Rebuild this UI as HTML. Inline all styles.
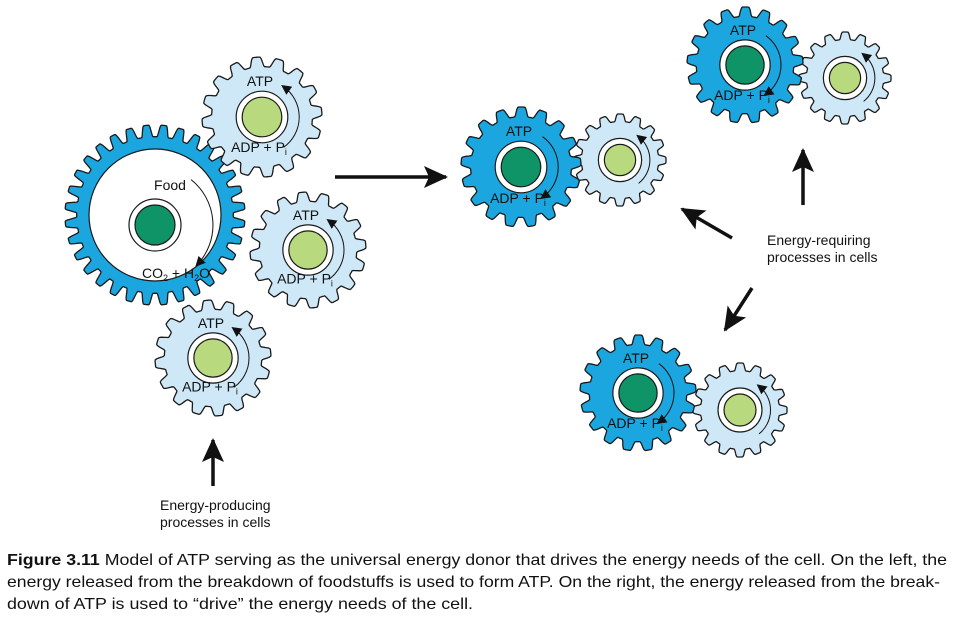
<!DOCTYPE html>
<html><head><meta charset="utf-8"><style>
html,body{margin:0;padding:0;background:#fff;}
svg{display:block;}
text{font-family:"Liberation Sans",sans-serif;fill:#111;}
</style></head><body>
<svg id="s" width="955" height="618" viewBox="0 0 955 618" xmlns="http://www.w3.org/2000/svg">
<defs>
<marker id="ah" markerWidth="10" markerHeight="10" refX="7" refY="5" orient="auto" markerUnits="userSpaceOnUse">
<path d="M0,0 L10,5 L0,10 Z" fill="#111"/></marker>
<marker id="big" markerWidth="24" markerHeight="22" refX="22" refY="11" orient="auto" markerUnits="userSpaceOnUse">
<path d="M0,0 L24,11 L0,22 L5,11 Z" fill="#111"/></marker>
</defs>
<g id="gears"></g>
<line x1="335" y1="177" x2="446" y2="177" stroke="#111" stroke-width="3.5" marker-end="url(#big)"/>
<line x1="213" y1="486" x2="213" y2="440" stroke="#111" stroke-width="3.5" marker-end="url(#big)"/>
<line x1="803" y1="205" x2="803" y2="150" stroke="#111" stroke-width="3.5" marker-end="url(#big)"/>
<line x1="732" y1="238" x2="682" y2="209" stroke="#111" stroke-width="3.5" marker-end="url(#big)"/>
<line x1="752" y1="288" x2="725" y2="330" stroke="#111" stroke-width="3.5" marker-end="url(#big)"/>
<g font-size="14">
<text x="160" y="510">Energy-producing</text>
<text x="160" y="527">processes in cells</text>
<text x="767" y="245">Energy-requiring</text>
<text x="767" y="262">processes in cells</text>
</g>
<g font-size="16">
<text x="7" y="565" textLength="940" lengthAdjust="spacingAndGlyphs"><tspan font-weight="bold">Figure 3.11</tspan>   Model of ATP serving as the universal energy donor that drives the energy needs of the cell. On the left, the</text>
<text x="7" y="587" textLength="933" lengthAdjust="spacingAndGlyphs">energy released from the breakdown of foodstuffs is used to form ATP. On the right, the energy released from the break-</text>
<text x="7" y="609" textLength="466" lengthAdjust="spacingAndGlyphs">down of ATP is used to “drive” the energy needs of the cell.</text>
</g>
</svg>
<script>
var NS="http://www.w3.org/2000/svg",G=document.getElementById("gears");
function el(t,a,p){var e=document.createElementNS(NS,t);for(var k in a)e.setAttribute(k,a[k]);(p||G).appendChild(e);return e;}
function prof(f){ // 0..1 tooth height
 if(f<0.12||f>0.88)return 0;
 if(f>=0.36&&f<=0.64)return 1;
 if(f<0.36)return 0.5-0.5*Math.cos(Math.PI*(f-0.12)/0.24);
 return 0.5-0.5*Math.cos(Math.PI*(0.88-f)/0.24);}
function gearPath(cx,cy,ro,ri,n,rot){var d="",M=n*24;
for(var k=0;k<M;k++){var a=rot+2*Math.PI*k/M,f=(k%24)/24,r=ri+(ro-ri)*prof(f);
d+=(k==0?"M":"L")+(cx+r*Math.cos(a)).toFixed(1)+","+(cy+r*Math.sin(a)).toFixed(1);}
return d+"Z";}
function gear(cx,cy,ro,n,dark,rot,ratio){
el("path",{d:gearPath(cx,cy,ro,ro*(ratio||0.84),n,rot),fill:dark?"#1ba6df":"#cfe8f7","stroke":"#1a1a1a","stroke-width":"1.3","stroke-linejoin":"round"});}
function hub(cx,cy,r,dark){
el("circle",{cx:cx,cy:cy,r:r+6,fill:"#fff",stroke:"#1a1a1a","stroke-width":"1.2"});
el("circle",{cx:cx,cy:cy,r:r,fill:dark?"#0e9466":"#b8d97e",stroke:"#1a1a1a","stroke-width":"1.2"});}
function txt(x,y,s,fs){var t=el("text",{x:x,y:y,"font-size":fs||14,"text-anchor":"middle"});t.innerHTML=s;}
function arc(cx,cy,r,a1,a2,sweep){var p=function(a){return (cx+r*Math.cos(a)).toFixed(1)+","+(cy+r*Math.sin(a)).toFixed(1);};
el("path",{d:"M"+p(a1)+" A"+r+","+r+" 0 0,"+sweep+" "+p(a2),fill:"none",stroke:"#111","stroke-width":"1","marker-end":"url(#ah)"});}
function atpGear(cx,cy,ro){
gear(cx,cy,ro,16,false,0.1);
hub(cx,cy,ro*0.33,false);
txt(cx-2,cy-ro*0.52,"ATP",14);
txt(cx-3,cy+ro*0.58,"ADP + P<tspan font-size=\"9\" dy=\"3\">i</tspan>",14);
arc(cx,cy,ro*0.62,0.95,-0.95,0);}
function atpGearDark(cx,cy,ro){
gear(cx,cy,ro,17,true,0.1);
hub(cx,cy,ro*0.33,true);
txt(cx-2,cy-ro*0.52,"ATP",14);
txt(cx-3,cy+ro*0.6,"ADP + P<tspan font-size=\"9\" dy=\"3\">i</tspan>",14);
arc(cx,cy,ro*0.62,-0.95,0.95,1);}
function lightGear(cx,cy,ro){
gear(cx,cy,ro,16,false,0.2);
hub(cx,cy,ro*0.34,false);
arc(cx,cy,ro*0.65,0.9,-0.9,0);}
gear(155,215,90,32,true,0,0.87);
el("circle",{cx:155,cy:215,r:66,fill:"#fff",stroke:"#1a1a1a","stroke-width":"1.2"});
hub(155,225,20,true);
txt(170,190,"Food",14);
txt(176,278,"CO<tspan font-size=\"9\" dy=\"3\">2</tspan><tspan dy=\"-3\"> + H</tspan><tspan font-size=\"9\" dy=\"3\">2</tspan><tspan dy=\"-3\">O</tspan>",14);
arc(155,225,58,-0.9,0.75,1);
atpGear(262,117,60);
atpGear(308,250,58);
atpGear(213,358,58);
lightGear(620,160,46);
atpGearDark(521,167,60);
lightGear(845,78,46);
atpGearDark(745,65,58);
lightGear(740,410,47);
atpGearDark(638,393,58);
</script>
</body></html>
